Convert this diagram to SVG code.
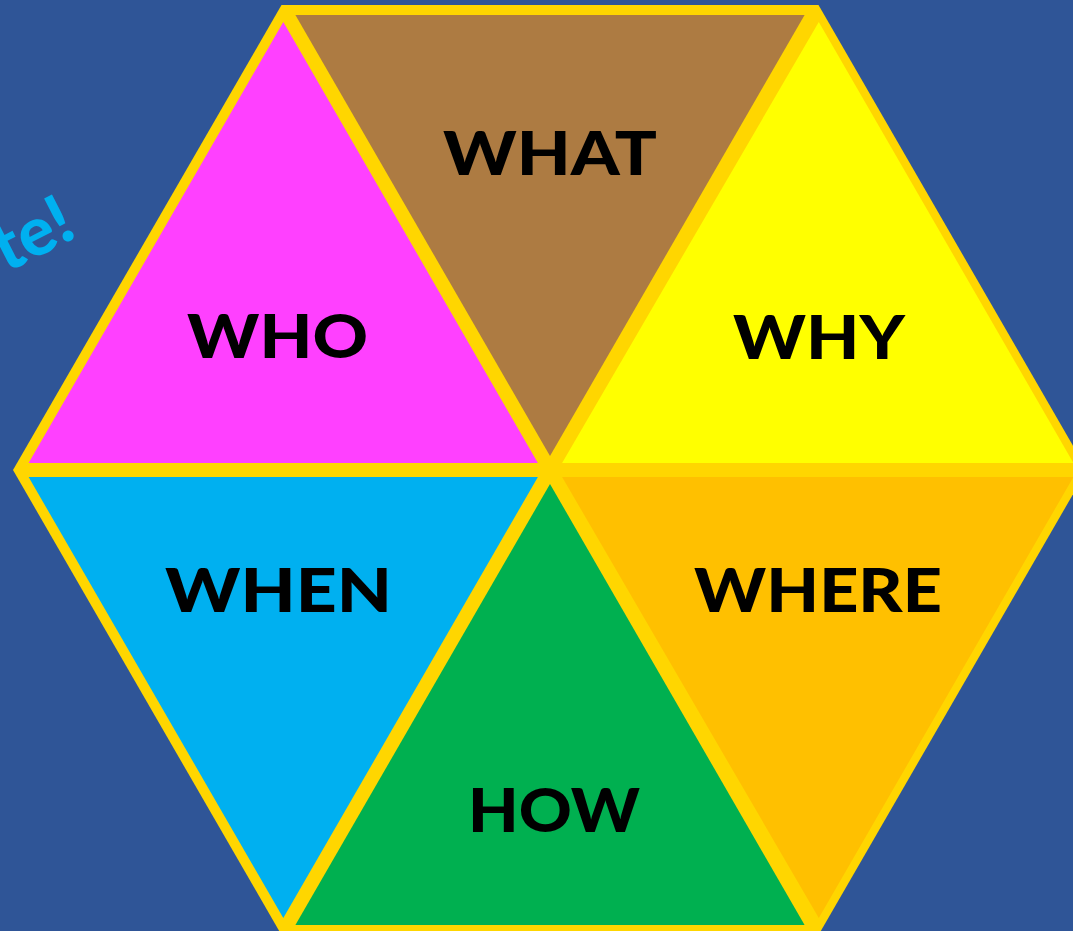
<svg xmlns="http://www.w3.org/2000/svg" width="1073" height="931" viewBox="0 0 1073 931">
  <style>
    .lbl { font-family: Lato, "Open Sans", "Liberation Sans", sans-serif; font-weight: 900; font-size: 60px; fill: #000; text-anchor: middle; }
    .cyan-txt { font-family: Lato, "Open Sans", "Liberation Sans", sans-serif; font-weight: 900; font-size: 68px; fill: #00B0F0; }
  </style>
  <rect x="0" y="0" width="1073" height="931" fill="#2F5597"/>
  <text class="cyan-txt" text-anchor="end" transform="translate(79,236) rotate(-27)">te!</text>
  <polygon id="frame" points="281.5,5 818.5,5 1087,470 818.5,935 281.5,935 13,470" fill="#FFD600"/>
  <g id="who">
    <polygon points="28.6,463 537.9,463 283.3,22" fill="#FF40FF"/>
    <text class="lbl" x="277.5" y="358" textLength="181" lengthAdjust="spacingAndGlyphs">WHO</text>
  </g>
  <g id="what">
    <polygon points="295.4,15 804.6,15 550,456" fill="#AD7B42"/>
    <text class="lbl" x="550" y="175" textLength="214" lengthAdjust="spacingAndGlyphs">WHAT</text>
  </g>
  <g id="why">
    <polygon points="562.1,463 1073.4,463 818.8,22" fill="#FFFF00"/>
    <text class="lbl" x="819" y="359" textLength="172" lengthAdjust="spacingAndGlyphs">WHY</text>
  </g>
  <g id="when">
    <polygon points="28.6,477 537.9,477 283.3,918" fill="#00B0F0"/>
    <text class="lbl" x="278.5" y="612" textLength="227" lengthAdjust="spacingAndGlyphs">WHEN</text>
  </g>
  <g id="how">
    <polygon points="295.4,925 804.6,925 550,484" fill="#00B050"/>
    <text class="lbl" x="554" y="832" textLength="172" lengthAdjust="spacingAndGlyphs">HOW</text>
  </g>
  <g id="where">
    <polygon points="562.1,477 1073.4,477 818.8,918" fill="#FFC000"/>
    <text class="lbl" x="818" y="612" textLength="248" lengthAdjust="spacingAndGlyphs">WHERE</text>
  </g>
</svg>
